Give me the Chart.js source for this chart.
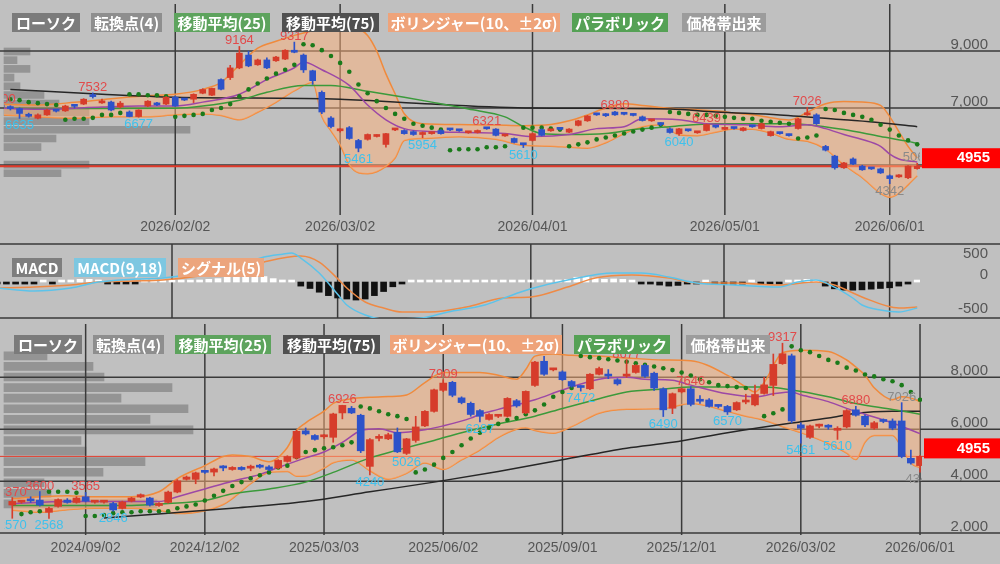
<!DOCTYPE html>
<html lang="ja">
<head>
<meta charset="utf-8">
<title>株価チャート</title>
<script src="https://cdn.jsdelivr.net/npm/chart.js@4.4.1/dist/chart.umd.min.js"></script>
<style>
  body { margin: 0; background: #c0c0c0; overflow: hidden; }
  #wrap { position: relative; width: 1000px; height: 564px; background: #c0c0c0; }
  canvas { position: absolute; left: 0; }
  .tag { position: absolute; height: 19px; line-height: 19px; font-size: 15px; font-weight: bold; font-family: "Noto Sans CJK JP", sans-serif; color: #fff; text-align: center; white-space: nowrap; }
</style>
</head>
<body>
<div id="wrap">
  <canvas id="dayVol" width="1000" height="240" style="top:0"></canvas>
  <canvas id="day" width="1000" height="240" style="top:0"></canvas>
  <canvas id="macd" width="1000" height="80" style="top:240px"></canvas>
  <canvas id="wkVol" width="1000" height="244" style="top:320px"></canvas>
  <canvas id="wk" width="1000" height="244" style="top:320px"></canvas>
</div>
<script>
// ---- daily (top) ----
var dayTickIdx = [19, 37, 58, 79, 97];
var dayTickLabels = ["2026/02/02", "2026/03/02", "2026/04/01", "2026/05/01", "2026/06/01"];
var dayGrid = [9000, 7000, 5000];

var dayOpen = [7080,7020,6980,6780,6640,6760,6920,6900,7090,7140, 7430,7180,7210,7040,6860,6700,7070,7150,7140,7380,
  7310,7310,7520,7450,8000,8070,8410,8860,8520,8690, 8660,8720,9000,8860,8310,7550,6650,6200,6310,5860,
  5900,6000,5720,6230,6210,6170,6070,6100,6210,6250, 6220,6130,6140,6290,6260,6020,5930,5730,5860,6240,
  6200,6260,6150,6390,6550,6780,6780,6860,6800,6770, 6690,6550,6430,6270,6100,6220,6130,6210,6340,6250,
  6290,6210,6360,6280,6030,6120,6050,6280,6760,6760, 5650,5310,4900,5210,4960,4880,4860,4620,4580,4550, 4870];
var dayHigh = [7100,7080,7010,6820,6800,6960,6950,7100,7130,7330, 7532,7310,7240,7230,6900,6940,7260,7200,7400,7420,
  7340,7500,7680,7700,8030,8500,9164,9000,8720,8760, 8820,9050,9317,8900,8330,7600,6700,6280,6350,5900,
  6090,6060,6110,6290,6240,6200,6160,6150,6240,6280, 6250,6170,6230,6321,6280,6070,5950,5750,6120,6270,
  6250,6280,6280,6570,6740,6820,6810,6880,6830,6800, 6720,6600,6470,6300,6290,6250,6170,6439,6370,6290,
  6320,6320,6390,6470,6190,6150,6080,6640,7026,6800, 5690,5340,5090,5250,4990,4910,4890,4650,4660,4980, 5060];
var dayLow = [6980,6930,6635,6680,6620,6740,6860,6880,7000,7120, 7350,7160,6900,7000,6690,6677,7050,7080,7120,7060,
  7260,7190,7500,7430,7640,8000,8380,8450,8500,8380, 8640,8700,8940,8250,7830,6800,6300,6150,5900,5461,
  5870,5980,5620,6200,6080,6040,5954,6080,6080,6200, 6180,6110,6120,6250,6020,6000,5770,5610,5840,6020,
  6180,6230,6130,6370,6530,6740,6700,6740,6760,6720, 6540,6530,6380,6120,6040,6180,6110,6190,6300,6230,
  6260,6190,6320,6260,6010,6080,6010,6260,6740,6420, 5490,4850,4880,5010,4810,4840,4700,4342,4560,4520, 4850];
var dayClose = [7030,6980,6810,6710,6760,6930,6890,7070,7060,7310, 7400,7210,6930,7170,6700,6930,7240,7110,7380,7070,
  7280,7480,7650,7690,7660,8410,8930,8480,8690,8410, 8790,9030,8960,8340,7960,6860,6350,6220,5930,5590,
  6070,6030,6100,6250,6100,6070,6140,6120,6100,6230, 6200,6150,6210,6270,6040,6040,5790,5710,6100,6040,
  6230,6250,6260,6550,6720,6760,6730,6760,6780,6740, 6560,6570,6420,6140,6270,6200,6150,6420,6330,6260,
  6280,6300,6340,6450,6170,6100,6030,6620,6780,6450, 5520,4900,5070,5030,4830,4860,4720,4520,4600,4960, 4955];

var dayBBIdx = [0,4,8,12,16,19,22,24,26,28,30,32,34,35,36,37,38,39,40,41,42,43,44,46,50,54,57,60,62,64,66,68,70,72,74,76,78,80,82,84,86,88,90,92,94,96,97,98,99,100];
var dayBBUp = [7138,7110,7200,7330,7430,7483,7655,7897,8517,9103,9345,9552,9724,9850,9930,9960,9950,9800,9550,9000,8200,7500,6800,6450,6420,6400,6380,6420,6550,6760,7000,7150,7090,7020,6970,6940,6900,6830,6760,6660,6580,6850,7150,7230,7210,7090,6700,6170,5650,5240];
var dayBBLo = [6759,6690,6640,6690,6690,6760,6793,6740,6586,6850,7200,7600,7897,6700,6200,5700,5000,4724,4690,4760,4950,5242,5860,5931,5990,5900,5690,5660,5620,5590,5780,6104,6345,6414,6060,6030,6150,6260,6250,6120,5900,5830,5552,5000,4550,4000,3862,4000,4300,4621];

var dayMidIdx = [0,5,11,15,19,22,26,29,32,33,35,38,40,42,44,47,51,55,58,62,65,68,70,74,77,81,85,88,90,92,94,96,97,98,100];
var dayMid = [6990,6960,7035,7069,7069,7207,7483,8000,8414,8621,8345,7793,7104,6586,6276,6173,6138,6104,6000,6069,6276,6345,6621,6586,6448,6414,6345,6414,6276,6069,5897,5655,5380,5207,5104];
var dayMa25Idx = [0,10,19,22,26,29,33,36,40,44,47,51,55,57,59,62,66,69,73,78,81,85,88,92,96,99,100];
var dayMa25 = [6990,6980,6990,7069,7276,7552,7793,7793,7586,7379,7207,6966,6690,6345,6104,6069,6104,6242,6345,6448,6448,6448,6414,6242,6000,5828,5760];
var dayMa75Idx = [1,11,19,37,47,58,73,78,85,92,96,100];
var dayMa75 = [7655,7483,7379,7310,7138,7000,6966,6862,6759,6586,6483,6345];

var daySar = [null,7310,7276,7207,7172,7138,7104,6586,6621,6621, 6655,6759,6759,6828,7483,7483,7448,7448,7414,6690,
  6724,6759,6793,6931,7000,7138,7414,7655,7862,8035, 8207,8345,8517,9241,9207,9034,8828,8586,8276,7828,
  7517,7241,7000,6793,6621,6448,6379,6310,6242,5517, 5552,5552,5552,5621,5621,5655,null,6310,6310,6310,
  6276,6242,5655,5724,5793,5897,5966,6035,6104,6173, 6242,6310,6414,6862,6828,6793,6759,6759,6724,6690,
  6655,6621,6621,6552,6517,6483,6448,5931,5966,6035, 6966,6931,6828,6759,6690,6586,6414,6242,6035,5862, 5724];

var dayPivIdx = [0,2,10,15,26,32,39,46,53,57,67,74,77,88,97,100];
var dayPivVal = [7100,6635,7532,6677,9164,9317,5461,5954,6321,5610,6880,6040,6439,7026,4342,5060];
var dayPivKind = ["H","L","H","L","H","H","L","L","H","L","H","L","H","H","l","h"];

var dayVolPrice = [8880,8580,8280,7980,7680,7380,7080,6780,6480,6180,5880,5580,4980,4680];
var dayVolAmt = [26,13,26,10,16,40,55,85,85,186,52,37,85,57];

// ---- MACD ----
var macdIdx = [0,4,8,11,15,18,22,26,29,31,32,33,35,37,38,40,42,46,49,53,55,58,62,67,70,73,76,80,85,87,89,91,93,94,96,98,100];
var macdVal = [-88,-132,-88,0,44,59,132,230,368,410,426,353,132,-180,-338,-485,-544,-530,-441,-338,-240,-100,30,132,132,74,-15,-44,-74,0,30,-74,-235,-338,-412,-441,-382];
var sigIdx = [0,4,8,11,15,18,22,26,29,33,35,37,38,40,42,44,47,51,55,58,62,65,69,73,76,80,85,89,91,94,98,100];
var sigVal = [-88,-74,-44,0,15,30,88,176,294,382,294,50,-88,-294,-382,-441,-441,-368,-235,-220,-74,59,103,59,-15,-15,-44,0,-44,-220,-382,-368];
var macdHist = [-20,-30,-30,-30,-10,10,-10,10,30,40, 40,30,-10,-15,-20,-10,10,10,15,15,
  20,25,30,40,50,70,90,100,100,80, 50,30,15,-60,-95,-150,-200,-235,-250,-265,
  -250,-200,-140,-70,-25,10,15,10,15,20, 10,15,20,15,20,20,15,20,30,15,
  20,30,40,70,80,60,40,45,40,20, -20,-30,-45,-60,-50,-30,-10,10,-10,-15,
  -10,-10,10,-10,-15,-10,10,30,40,20, -60,-100,-120,-120,-115,-105,-95,-85,-60,-30, 5];
var macdTicks = [500, 0, -500];

// ---- weekly (bottom) ----
var wkTickIdx = [9, 22, 35, 48, 61, 74, 87, 100];
var wkTickLabels = ["2024/09/02", "2024/12/02", "2025/03/03", "2025/06/02", "2025/09/01", "2025/12/01", "2026/03/02", "2026/06/01"];
var wkGrid = [8000, 6000, 4000, 2000];

var wkOpen = [3080,3190,3260,3270,2800,3030,3270,3180,3400,3190, 3190,3140,2950,3230,3390,3350,3060,3180,3580,4070,
  4070,4360,4350,4530,4450,4530,4500,4600,4550,4510, 4760,4890,5940,5760,5710,5690,6630,6810,6540,4570,
  5650,5630,5880,5070,5570,6130,6690,7500,7810,7210, 7000,6720,6380,6500,6500,7100,6630,7690,8620,8290,
  8210,7840,7640,7560,8120,8080,7910,8050,8190,8460, 8160,7560,6810,7440,7560,7120,7130,6900,6880,6750,
  7050,6940,7380,7690,8530,8830,6170,5690,6120,6120, 5960,6090,6750,6500,6040,6330,6320,6320,4880,4600];
var wkHigh = [3370,3260,3400,3600,3000,3320,3330,3400,3565,3260, 3240,3180,3230,3380,3510,3380,3170,3620,4060,4200,
  4350,4400,4500,4600,4560,4560,4620,4650,4600,4830, 4980,5960,6050,5800,5800,6620,6926,6880,6580,5640,
  5800,5850,6050,5650,6500,6720,7550,7909,7850,7250, 7050,6760,6600,6560,7220,7150,7480,8620,8814,8350,
  8250,7880,7680,8150,8400,8300,7950,8677,8490,8500, 8200,7600,7400,7600,7646,7300,7180,6950,6920,7060,
  7350,7700,8000,8900,9317,8900,6250,6160,6200,6180, 6100,6760,6880,6560,6300,6400,6400,7026,5200,5000];
var wkLow = [2570,3150,3180,3040,2568,3000,3150,3150,3200,3150, 3150,2846,2920,3200,3360,3040,3030,3150,3550,4040,
  3900,4300,4200,4400,4420,4420,4400,4500,4400,4480, 4730,4850,5780,5580,5650,5500,6400,6600,5100,4240,
  5550,5600,5100,5026,5500,6100,6660,7450,7250,6980, 6500,6287,6350,6450,6470,6850,6600,7650,8080,8250,
  7880,7620,7472,7530,8090,7950,7700,8000,8160,8000, 7500,6490,6600,7400,6900,7000,6850,6820,6570,6720,
  6980,6900,7350,7300,8500,6250,5461,5650,6050,6000, 5610,6050,6500,6100,6000,6250,5980,4900,4650,4342];
var wkClose = [3220,3210,3240,3080,2950,3290,3180,3350,3230,3210, 3200,2890,3200,3350,3480,3080,3140,3580,4010,4160,
  4320,4340,4470,4510,4530,4450,4520,4540,4450,4800, 4950,5920,5820,5610,5730,6590,6920,6630,5170,5600,
  5680,5790,5130,5630,6090,6690,7520,7780,7310,7030, 6570,6500,6570,6520,7190,6900,7460,8590,8120,8320,
  7910,7660,7610,8120,8340,8050,7750,8080,8460,8040, 7590,6750,7370,7560,6960,7080,6880,6880,6670,7030,
  7080,7340,7710,8500,8910,6320,6040,6130,6140,6080, 6040,6720,6540,6170,6250,6300,6040,4950,4700,4955];

var wkBBIdx = [1,4,7,10,14,17,19,22,24,25,27,29,31,32,33,35,36,38,40,42,44,46,48,50,52,54,56,57,58,60,62,65,68,72,75,79,81,82,83,85,87,90,92,93,94,95,97,98,99,100];
var wkBBUp = [3330,3400,3440,3400,3400,3590,4100,4600,4950,5010,4950,4750,5300,5950,6250,6700,7000,7180,7230,7260,7320,7800,8190,8190,8190,8080,7930,8300,8820,8900,8850,8820,8750,8670,8640,8080,7630,7440,7800,8950,9050,9000,8670,8400,8080,7600,7140,7250,7200,7070];
var wkBBLo = [2880,2800,2900,2954,2954,2880,2750,2860,3100,3330,3900,4330,4370,4190,4200,4500,4710,4820,4400,4075,4300,4700,4450,4820,5200,5680,6000,6056,5950,5850,6100,6620,6770,6800,6990,6690,6500,6430,6350,6100,5870,5450,5080,4830,5500,5760,5760,5300,4700,4520];

var wkMidIdx = [1,7,14,17,19,22,25,28,30,33,35,37,39,41,43,46,48,51,52,54,58,61,65,68,70,73,75,79,82,84,86,87,90,92,94,97,100];
var wkMid = [3140,3215,3215,3215,3402,3701,4000,4262,4524,4898,5122,5496,5944,6019,5869,5981,6131,6430,6580,6766,7140,7514,7925,8000,7925,7888,7701,7365,7252,7365,7439,7327,7065,6804,6580,6243,5832];
var wkMa25Idx = [1,14,18,22,25,29,33,36,40,43,47,50,54,58,61,65,68,72,75,83,86,90,93,97,100];
var wkMa25 = [3066,3066,3140,3253,3514,3701,3963,4337,4898,5196,5570,5869,6206,6505,6804,7178,7439,7551,7626,7626,7514,7252,6991,6766,6580];
var wkMa75Idx = [11,18,25,33,40,47,54,61,68,73,79,86,90,93,97,100];
var wkMa75 = [2580,2767,2954,3215,3589,3963,4374,4823,5271,5496,5869,6243,6430,6617,6692,6692];

var wkSar = [null,null,2730,2804,2842,3589,3589,3589,3552,2655, 2655,2692,2767,2804,2804,2842,2842,2842,2842,2954,
  3028,3103,3253,3440,3627,3813,3963,4112,4225,4337, 4524,4598,4935,5122,5196,5271,5309,5383,5496,6879,
  6804,6692,6580,6505,6393,4337,4449,4636,4897,5122, 5383,5645,5869,6056,6206,6355,6430,6580,6729,6953,
  7252,7439,7589,8822,8780,8740,8700,8650,8600,8540, 8480,8420,8350,8280,8187,8075,7925,7813,7701,7664,
  7626,7589,null,6505,6617,6766,9196,9047,8972,8822, 8673,8561,8374,8262,8112,8037,7925,7850,7701,7439, 7140];

var wkPivIdx = [1,1,4,5,9,12,37,40,44,48,52,59,63,68,72,75,79,85,87,91,93,98,100];
var wkPivVal = [3370,2570,3600,2568,3565,2846,6926,4240,5026,7909,6287,8814,7472,8677,6490,7646,6570,9317,5461,5610,6880,7026,4342];
var wkPivKind = ["H","L","H","L","H","L","H","L","L","H","L","H","L","H","L","H","L","H","L","L","H","h","l"];

var wkVolPrice = [8700,8300,7900,7500,7100,6700,6300,5900,5500,5100,4700,4300,3900,3500,3100];
var wkVolAmt = [43,89,100,168,117,184,146,189,77,82,141,99,40,47,153];

// ---- legends ----
var tagsTop = [["ローソク",68,"#7b7b7b"],["転換点(4)",71,"#8e8e8e"],["移動平均(25)",96,"#5da35d"],["移動平均(75)",97,"#505050"],
  ["ボリンジャー(10、±2σ)",172,"#eea37a"],["パラボリック",96,"#55a155"],["価格帯出来",84,"#9c9c9c"]];
var tagsMacd = [["MACD",50,"#7e7e7e"],["MACD(9,18)",92,"#7dc7e1"],["シグナル(5)",86,"#eca57d"]];

function addTags(list, lefts, top) {
  var wrap = document.getElementById("wrap");
  list.forEach(function (t, k) {
    var d = document.createElement("div");
    d.className = "tag";
    d.textContent = t[0];
    d.style.left = lefts[k] + "px";
    d.style.top = top + "px";
    d.style.width = t[1] + "px";
    d.style.background = t[2];
    wrap.appendChild(d);
  });
}
addTags(tagsTop, [12, 91, 174, 282, 388, 572, 682], 13);
addTags(tagsMacd, [12, 74, 178], 258);
addTags(tagsTop, [14, 93, 175, 283, 390, 574, 686], 335);

// ---- chart helpers ----
var UP = "#d63c2b", DOWN = "#2d52c9";
var NUMFONT = '"Liberation Sans", Arial, sans-serif';

function pts(idx, vals) { return idx.map(function (x, k) { return { x: x, y: vals[k] }; }); }
function seq(start, vals) {
  var out = [];
  vals.forEach(function (v, k) { if (v !== null) out.push({ x: start + k, y: v }); });
  return out;
}
function lineDs(data, color, width, order, extra) {
  return Object.assign({ type: "line", data: data, borderColor: color, borderWidth: width, pointRadius: 0,
    fill: false, cubicInterpolationMode: "monotone", order: order }, extra || {});
}
function candleSets(start, o, h, l, c, w) {
  var col = o.map(function (v, k) { return c[k] >= v ? UP : DOWN; });
  return [
    { type: "bar", data: o.map(function (v, k) { return { x: start + k, y: [v, c[k]] }; }), backgroundColor: col,
      barThickness: w, minBarLength: 2, grouped: false, order: 1 },
    { type: "bar", data: l.map(function (v, k) { return { x: start + k, y: [v, h[k]] }; }), backgroundColor: col,
      barThickness: 1, grouped: false, order: 2 }
  ];
}
function baseOpts(pad, xr, yr) {
  return {
    responsive: false, animation: false, devicePixelRatio: 1, events: [],
    layout: { padding: pad },
    plugins: { legend: { display: false }, tooltip: { enabled: false } },
    scales: {
      x: { type: "linear", min: xr[0], max: xr[1], display: false, offset: false },
      y: { type: "linear", min: yr[0], max: yr[1], display: false, offset: false }
    }
  };
}

function priceDecor(cfg) {
  return {
    id: "priceDecor",
    beforeDatasetsDraw: function (ch) {
      var ctx = ch.ctx, a = ch.chartArea, x = ch.scales.x, y = ch.scales.y;
      ctx.save();
      ctx.strokeStyle = "#3a3a3a";
      ctx.lineWidth = 1.5;
      cfg.grid.forEach(function (v) {
        var py = y.getPixelForValue(v);
        ctx.beginPath(); ctx.moveTo(0, py); ctx.lineTo(ch.width, py); ctx.stroke();
      });
      cfg.ticks.forEach(function (i) {
        var px = x.getPixelForValue(i);
        ctx.beginPath(); ctx.moveTo(px, a.top); ctx.lineTo(px, a.bottom); ctx.stroke();
      });
      var ly = y.getPixelForValue(cfg.last);
      ctx.strokeStyle = "#e23a2a";
      ctx.lineWidth = cfg.lastW;
      ctx.beginPath(); ctx.moveTo(0, ly); ctx.lineTo(ch.width, ly); ctx.stroke();
      ctx.restore();
    },
    afterDatasetsDraw: function (ch) {
      var ctx = ch.ctx, a = ch.chartArea, x = ch.scales.x, y = ch.scales.y;
      ctx.save();
      ctx.beginPath(); ctx.rect(a.left, a.top, a.right - a.left, a.bottom - a.top); ctx.clip();
      ctx.font = "13px " + NUMFONT;
      ctx.textAlign = "center";
      ctx.textBaseline = "alphabetic";
      cfg.pivIdx.forEach(function (i, k) {
        var kind = cfg.pivKind[k], v = cfg.pivVal[k];
        var px = x.getPixelForValue(i), py = y.getPixelForValue(v);
        var high = kind === "H" || kind === "h";
        ctx.fillStyle = kind === "H" ? "#e24a4a" : (kind === "L" ? "#3fc1ec" : "#8a8a8a");
        ctx.fillText(String(v), px, high ? py - 2 : py + 11);
      });
      ctx.restore();

      ctx.save();
      ctx.font = "15px " + NUMFONT;
      ctx.fillStyle = "#555";
      ctx.textAlign = "right";
      cfg.grid.forEach(function (v) {
        ctx.fillText(v.toLocaleString("en-US"), 988, y.getPixelForValue(v) - 2);
      });
      ctx.font = "14px " + NUMFONT;
      ctx.textAlign = "center";
      ctx.textBaseline = "middle";
      cfg.ticks.forEach(function (i, k) {
        ctx.fillText(cfg.tickLabels[k], x.getPixelForValue(i), a.bottom + cfg.labelGap);
      });
      var ly = y.getPixelForValue(cfg.last);
      ctx.fillStyle = "#ff0000";
      ctx.fillRect(a.right + 2, ly - 18, ch.width - a.right - 2, 20);
      ctx.fillStyle = "#fff";
      ctx.font = "bold 15px " + NUMFONT;
      ctx.textAlign = "right";
      ctx.fillText(String(cfg.last), 990, ly - 8);
      ctx.restore();
    }
  };
}

function pricePanel(id, p) {
  var ds = [];
  ds = ds.concat(candleSets(p.start, p.o, p.h, p.l, p.c, p.bodyW));
  ds.push({ type: "line", data: seq(0, p.sar), showLine: false, pointRadius: 2.3, pointBackgroundColor: "#1a7a1a",
    pointBorderWidth: 0, order: 3 });
  ds.push(lineDs(pts(p.midIdx, p.mid), "#9c48a6", 1.5, 4));
  ds.push(lineDs(pts(p.ma25Idx, p.ma25), "#3b9a3b", 1.5, 5));
  ds.push(lineDs(pts(p.ma75Idx, p.ma75), "#262626", 1.5, 6));
  ds.push(lineDs(pts(p.bbIdx, p.bbUp), "#f08a3c", 1.5, 9, { fill: "+1", backgroundColor: "rgba(255,178,122,0.5)" }));
  ds.push(lineDs(pts(p.bbIdx, p.bbLo), "#f08a3c", 1.5, 10));
  var opts = baseOpts(p.pad, p.xr, p.yr);
  new Chart(id, { type: "bar", data: { datasets: ds }, options: opts, plugins: [priceDecor(p.decor)] });
}

function volPanel(id, prices, amts, pad, xr, yr, thick) {
  var opts = baseOpts(pad, xr, yr);
  opts.indexAxis = "y";
  new Chart(id, {
    type: "bar",
    data: { datasets: [{ data: prices.map(function (v, k) { return { x: amts[k], y: v }; }),
      backgroundColor: "rgba(112,112,112,0.55)", barThickness: thick }] },
    options: opts
  });
}

// top: daily
var dayPad = { left: 0, right: 80, top: 0, bottom: 25 };
var dayX = [0.304, 100.304], dayY = [3241, 10655];
volPanel("dayVol", dayVolPrice, dayVolAmt, dayPad, [-4, 916], dayY, 7);
pricePanel("day", {
  start: 0, o: dayOpen, h: dayHigh, l: dayLow, c: dayClose, bodyW: 6, sar: daySar,
  midIdx: dayMidIdx, mid: dayMid, ma25Idx: dayMa25Idx, ma25: dayMa25, ma75Idx: dayMa75Idx, ma75: dayMa75,
  bbIdx: dayBBIdx, bbUp: dayBBUp, bbLo: dayBBLo, pad: dayPad, xr: dayX, yr: dayY,
  decor: { grid: dayGrid, ticks: dayTickIdx, tickLabels: dayTickLabels, labelGap: 12, last: dayClose[dayClose.length - 1],
    lastW: 2, pivIdx: dayPivIdx, pivVal: dayPivVal, pivKind: dayPivKind }
});

// MACD
var macdOpts = baseOpts({ left: 0, right: 80, top: 4, bottom: 2 }, dayX, [-529, 559]);
new Chart("macd", {
  type: "bar",
  data: { datasets: [
    lineDs(pts(macdIdx, macdVal), "#5cc3ea", 1.5, 1),
    lineDs(pts(sigIdx, sigVal), "#ef8a45", 1.5, 2),
    { type: "bar", data: seq(0, macdHist), backgroundColor: macdHist.map(function (v) { return v >= 0 ? "#ffffff" : "#111111"; }),
      barThickness: 6, minBarLength: 2, order: 3 }
  ] },
  options: macdOpts,
  plugins: [{
    id: "macdDecor",
    beforeDatasetsDraw: function (ch) {
      var ctx = ch.ctx, a = ch.chartArea, x = ch.scales.x;
      ctx.save();
      ctx.strokeStyle = "#3a3a3a";
      ctx.lineWidth = 1.5;
      [a.top, a.bottom].forEach(function (py) {
        ctx.beginPath(); ctx.moveTo(0, py); ctx.lineTo(ch.width, py); ctx.stroke();
      });
      dayTickIdx.forEach(function (i) {
        var px = x.getPixelForValue(i);
        ctx.beginPath(); ctx.moveTo(px, a.top); ctx.lineTo(px, a.bottom); ctx.stroke();
      });
      ctx.restore();
    },
    afterDatasetsDraw: function (ch) {
      var ctx = ch.ctx, a = ch.chartArea, y = ch.scales.y;
      ctx.save();
      ctx.font = "15px " + NUMFONT;
      ctx.fillStyle = "#555";
      ctx.textAlign = "right";
      macdTicks.forEach(function (v) {
        var by = Math.min(Math.max(y.getPixelForValue(v) - 3, a.top + 14), a.bottom - 2);
        ctx.fillText(String(v), 988, by);
      });
      ctx.restore();
    }
  }]
});

// bottom: weekly
var wkPad = { left: 0, right: 78, top: 0, bottom: 29 };
var wkX = [0.096, 100.216], wkY = [1925, 10057];
volPanel("wkVol", wkVolPrice, wkVolAmt, wkPad, [-4, 918], wkY, 8);
pricePanel("wk", {
  start: 1, o: wkOpen, h: wkHigh, l: wkLow, c: wkClose, bodyW: 7, sar: wkSar,
  midIdx: wkMidIdx, mid: wkMid, ma25Idx: wkMa25Idx, ma25: wkMa25, ma75Idx: wkMa75Idx, ma75: wkMa75,
  bbIdx: wkBBIdx, bbUp: wkBBUp, bbLo: wkBBLo, pad: wkPad, xr: wkX, yr: wkY,
  decor: { grid: wkGrid, ticks: wkTickIdx, tickLabels: wkTickLabels, labelGap: 13, last: wkClose[wkClose.length - 1],
    lastW: 1, pivIdx: wkPivIdx, pivVal: wkPivVal, pivKind: wkPivKind }
});
</script>
</body>
</html>
